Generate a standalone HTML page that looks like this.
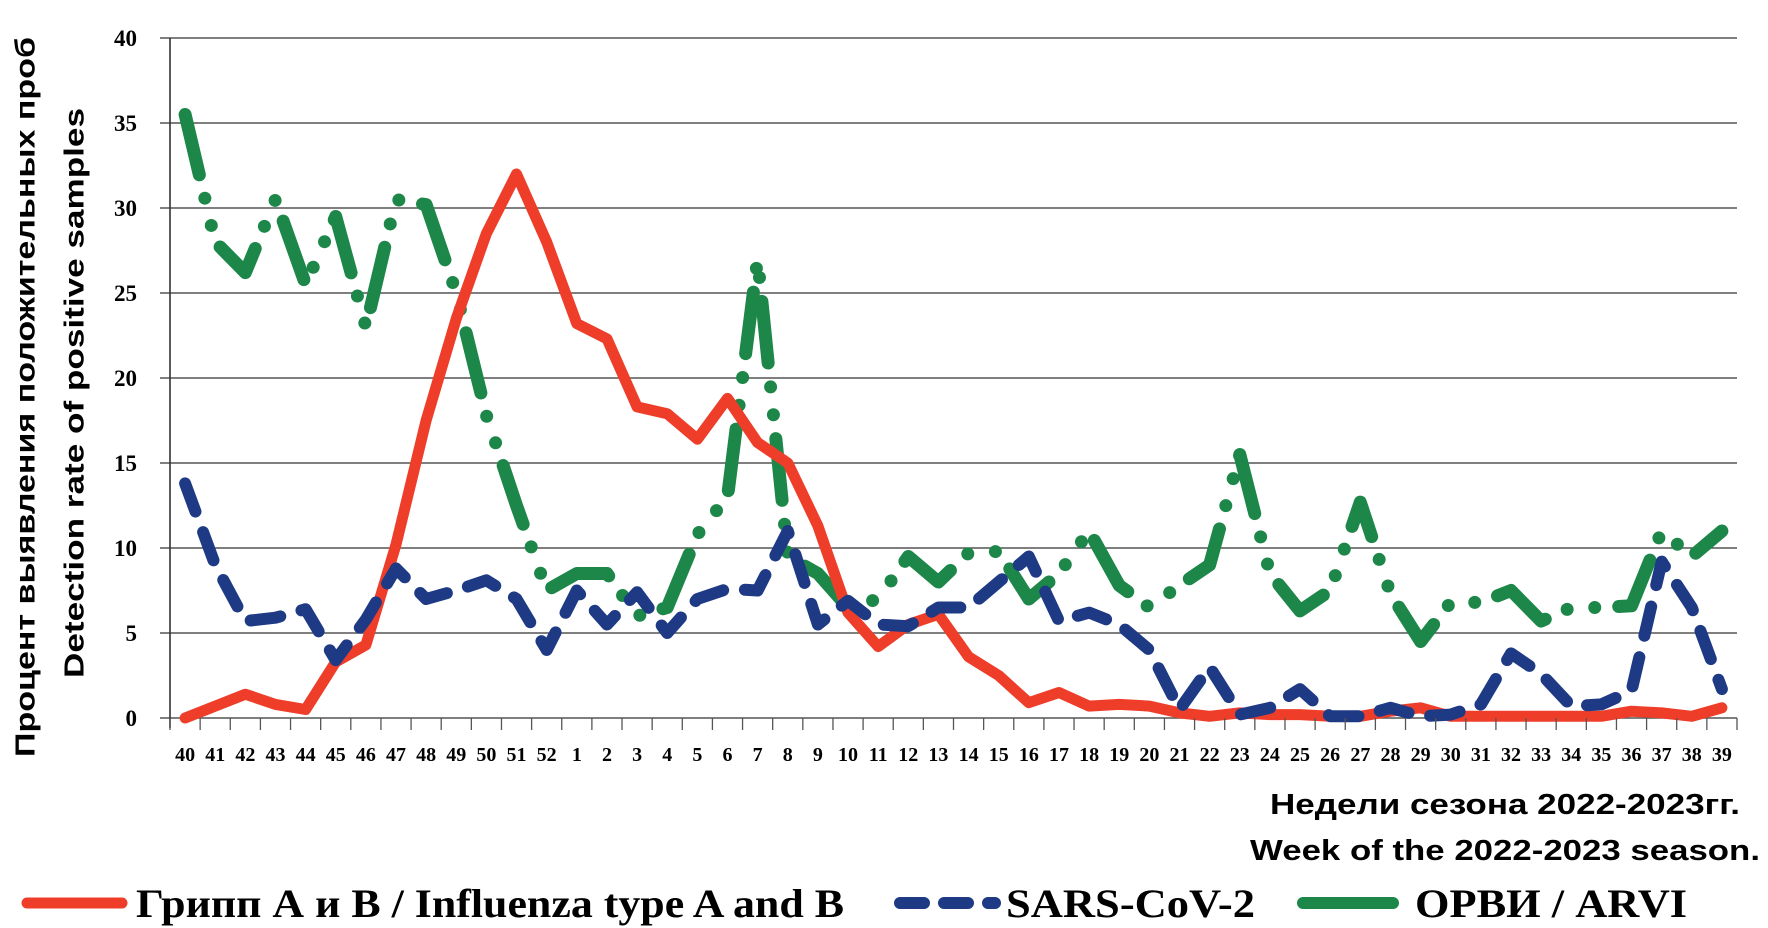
<!DOCTYPE html>
<html><head><meta charset="utf-8"><style>
html,body{margin:0;padding:0;background:#fff;}
svg{display:block;}
.tk{font-family:"Liberation Serif",serif;font-weight:bold;}
.ax{font-family:"Liberation Sans","DejaVu Sans",sans-serif;font-weight:bold;}
</style></head><body>
<svg id="chart" width="1768" height="928" viewBox="0 0 1768 928">
<g id="grid"></g>
<g id="series"></g>
<g id="axes"></g>
<text class="ax" x="25" y="397" font-size="28" text-anchor="middle" textLength="720" lengthAdjust="spacingAndGlyphs" transform="rotate(-90 25 397)" dominant-baseline="central">Процент выявления положительных проб</text>
<text class="ax" x="74" y="393" font-size="28" text-anchor="middle" textLength="570" lengthAdjust="spacingAndGlyphs" transform="rotate(-90 74 393)" dominant-baseline="central">Detection rate of positive samples</text>
<text class="ax" x="1740" y="814" font-size="29" text-anchor="end" textLength="470" lengthAdjust="spacingAndGlyphs">Недели сезона 2022-2023гг.</text>
<text class="ax" x="1760" y="860" font-size="29" text-anchor="end" textLength="510" lengthAdjust="spacingAndGlyphs">Week of the 2022-2023 season.</text>
<g>
<g>
<line x1="27" y1="903" x2="122" y2="903" stroke="#ee3e2a" stroke-width="11" stroke-linecap="round"/>
<text class="tk" x="136" y="917" font-size="40" textLength="708" lengthAdjust="spacingAndGlyphs">Грипп А и В / Influenza type A and B</text>
</g>
<g>
<line x1="900" y1="903" x2="995" y2="903" stroke="#1e3a85" stroke-width="12" stroke-linecap="round" stroke-dasharray="24 20"/>
<text class="tk" x="1006" y="917" font-size="40" textLength="249" lengthAdjust="spacingAndGlyphs">SARS-CoV-2</text>
</g>
<g>
<line x1="1303" y1="903" x2="1393" y2="903" stroke="#1d8749" stroke-width="12" stroke-linecap="round"/>
<text class="tk" x="1415" y="917" font-size="40" textLength="272" lengthAdjust="spacingAndGlyphs">ОРВИ / ARVI</text>
</g>
</g>
</svg>
<script>
const weeks=["40","41","42","43","44","45","46","47","48","49","50","51","52","1","2","3","4","5","6","7","8","9","10","11","12","13","14","15","16","17","18","19","20","21","22","23","24","25","26","27","28","29","30","31","32","33","34","35","36","37","38","39"];
const influenza=[0,0.7,1.4,0.8,0.5,3.3,4.3,10.2,17.5,23.5,28.5,32,28,23.2,22.3,18.3,17.9,16.4,18.8,16.2,15,11.3,6.2,4.2,5.5,6.1,3.6,2.5,0.9,1.5,0.7,0.8,0.7,0.3,0.1,0.3,0.2,0.2,0.1,0.1,0.4,0.6,0.1,0.1,0.1,0.1,0.1,0.1,0.4,0.3,0.1,0.6];
const sars=[13.8,9,5.7,5.9,6.4,3.4,5.8,8.8,7,7.5,8.1,7,4,7.5,5.5,7.4,5,7,7.6,7.5,11,5.5,6.9,5.5,5.4,6.5,6.5,8,9.5,5.7,6.2,5.5,4,0.5,3,0.2,0.6,1.7,0.1,0.1,0.6,0.1,0.2,0.8,3.8,2.6,0.7,0.8,1.6,9.2,6.5,1.7];
const arvi=[35.5,28,26.2,30.5,25.5,29.5,23,30.5,30.2,25,17.8,12.5,7.5,8.5,8.5,6,6.5,10.8,13,27,9.5,8.5,6.5,7,9.5,8,9.7,9.8,7,8.5,11,7.8,6.5,7.8,9,15.5,8.5,6.3,7.5,12.7,7.3,4.5,6.8,6.8,7.5,5.7,6.5,6.5,6.6,11,9.5,11];
const yTicks=[0,5,10,15,20,25,30,35,40];

const NS="http://www.w3.org/2000/svg";
const L=170,R=1737,Y0=718,Y40=38;
const bw=(R-L)/weeks.length;
function xs(i){return L+bw*(i+0.5);}
function ys(v){return Y0-(Y0-Y40)*v/40;}
function mk(tag,attrs,parent){const e=document.createElementNS(NS,tag);for(const k in attrs)e.setAttribute(k,attrs[k]);parent.appendChild(e);return e;}
const grid=document.getElementById('grid'),axes=document.getElementById('axes'),ser=document.getElementById('series');
yTicks.forEach(t=>{
  const y=ys(t);
  const gl=mk('line',{x1:L-10,x2:R,y1:y,y2:y,stroke:'#555','stroke-width':1.6},grid);
  
  
  const tx=mk('text',{x:137,y:y+8,'font-size':23,'text-anchor':'end',class:'tk'},axes);
  tx.textContent=t;
  
  
});
const ya=mk('line',{x1:L,x2:L,y1:Y40,y2:Y0+10,stroke:'#333','stroke-width':1.6},axes);


for(let i=0;i<=weeks.length;i++){
  const x=L+bw*i;
  const tk=mk('line',{x1:x,x2:x,y1:Y0,y2:Y0+12,stroke:'#555','stroke-width':1.3},axes);
  
  
}
weeks.forEach((w,i)=>{
  const tx=mk('text',{x:xs(i),y:761,'font-size':20,'text-anchor':'middle',class:'tk'},axes);
  tx.textContent=w;
  
  
});
function pts(arr){return arr.map((v,i)=>xs(i).toFixed(1)+','+ys(v).toFixed(1)).join(' ');}
const g=mk('polyline',{points:pts(arvi),fill:'none',stroke:'#1d8749','stroke-width':13,'stroke-linecap':'round','stroke-linejoin':'round','stroke-dasharray':'62 24 0 28 0 24'},ser);


const r=mk('polyline',{points:pts(influenza),fill:'none',stroke:'#ee3e2a','stroke-width':11,'stroke-linecap':'round','stroke-linejoin':'round'},ser);


const b=mk('polyline',{points:pts(sars),fill:'none',stroke:'#1e3a85','stroke-width':12,'stroke-linecap':'round','stroke-linejoin':'round','stroke-dasharray':'30 22'},ser);


</script>
</body></html>
